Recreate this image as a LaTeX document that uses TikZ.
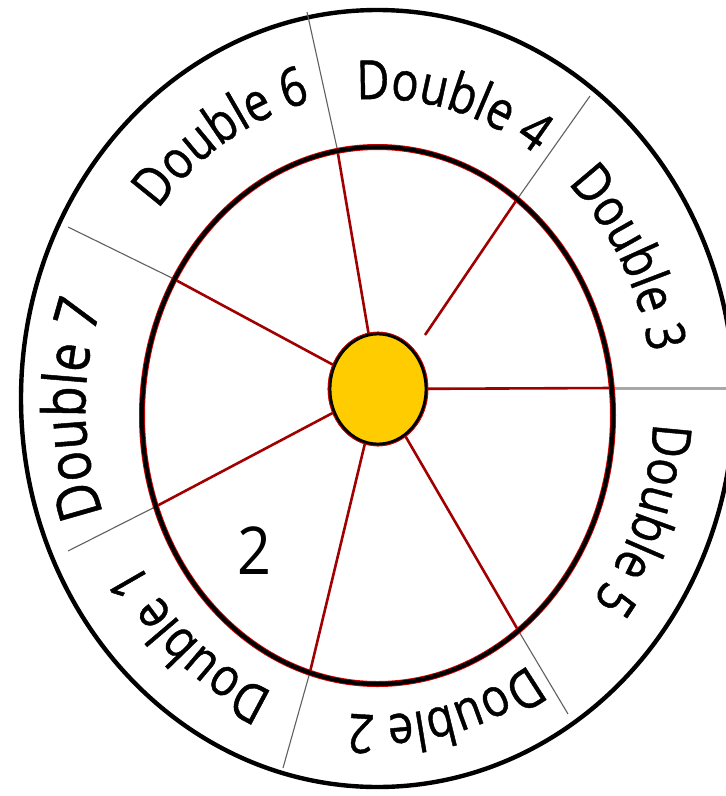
\documentclass[tikz,border=0pt]{standalone}
\usepackage{fontspec}
\newfontfamily\labfam[FakeStretch=0.84,FakeBold=0.8]{Open Sans}
\newfontfamily\numfam[FakeStretch=0.9]{Open Sans}
\newcommand\labfont{\labfam\fontsize{54}{60}\selectfont}
\newcommand\biglabfont{\labfam\fontsize{60}{66}\selectfont}
\usetikzlibrary{decorations.text,shapes.geometric}
\definecolor{spokered}{HTML}{A00000}
\definecolor{hubyellow}{HTML}{FFCC00}
\definecolor{divgray}{HTML}{606060}
\definecolor{lightdiv}{HTML}{A8A8A8}
\begin{document}
\begin{tikzpicture}[x=1pt,y=1pt,
  ringline/.style={draw=black,line width=4.4pt},
  innerline/.style={draw=black,line width=4.2pt,preaction={draw=red!85!black,line width=6pt}},
  spoke/.style={draw=spokered,line width=2.6pt},
  divider/.style={draw=divgray,line width=1.1pt},
  hdivider/.style={draw=lightdiv,line width=3pt},
  hubstyle/.style={ellipse,draw=black,line width=2.8pt,fill=hubyellow,inner sep=0pt,
    minimum width=96pt,minimum height=110pt,preaction={draw=red!80!black,line width=4.6pt}},
  lab/.style={decorate,decoration={text along path,text align=center,text={|\labfont|#1}}},
  biglab/.style={decorate,decoration={text along path,text align=center,text={|\biglabfont|#1}}},
  numlab/.style={font=\numfam\fontsize{66}{72}\selectfont,inner sep=0pt}
]
\useasboundingbox[fill=white] (0,0) rectangle (726,-796);

% coordinates of spoke ends (inner ellipse) and divider ends (outer ring)
\coordinate (a1) at (337,-148); \coordinate (a2) at (307,-12);
\coordinate (b0) at (425,-335); \coordinate (b1) at (518,-198); \coordinate (b2) at (590,-96);
\coordinate (c1) at (613,-388); \coordinate (c2) at (740,-388);
\coordinate (d1) at (518,-630); \coordinate (d2) at (568,-714);
\coordinate (e1) at (310,-672); \coordinate (e2) at (283,-768);
\coordinate (f1) at (153,-508); \coordinate (f2) at (68,-551);
\coordinate (g1) at (172,-278); \coordinate (g2) at (68,-227);

% outer ring
\draw[ringline] (377.5,-398.5) ellipse [x radius=356.5, y radius=388.5];

% hub node
\path (378,-389) node[hubstyle] (hub) {};

% spokes
\draw[spoke] (hub) -- (a1);
\draw[spoke] (b0) -- (b1);
\draw[spoke] (hub) -- (c1);
\draw[spoke] (hub) -- (d1);
\draw[spoke] (hub) -- (e1);
\draw[spoke] (hub) -- (f1);
\draw[spoke] (hub) -- (g1);

% dividers in the ring
\draw[divider] (a1) -- (a2);
\draw[divider] (b1) -- (b2);
\draw[hdivider] (c1) -- (c2);
\draw[divider] (d1) -- (d2);
\draw[divider] (e1) -- (e2);
\draw[divider] (f1) -- (f2);
\draw[divider] (g1) -- (g2);

% inner ellipse
\draw[innerline] (377.5,-415.5) ellipse [x radius=235.5, y radius=268.5];

% hub redrawn on top
\path (378,-389) node[hubstyle] (hubtop) {};

% labels along the ring (clockwise arcs)
\coordinate (tc) at (377.5,-407);
\path[lab={Double 6}] (tc) ++(171:282 and 314) arc[start angle=171, end angle=71, x radius=282, y radius=314];
\path[lab={Double 4}] (tc) ++(125.5:276 and 308) arc[start angle=125.5, end angle=25.5, x radius=276, y radius=308];
\path[lab={Double 3}] (tc) ++(79.6:276 and 308) arc[start angle=79.6, end angle=-20.4, x radius=276, y radius=308];
\path[lab={Double 5}] (tc) ++(28:276 and 308) arc[start angle=28, end angle=-72, x radius=276, y radius=308];
\path[lab={Double 2}] (tc) ++(-27:276 and 308) arc[start angle=-27, end angle=-127, x radius=276, y radius=308];
\path[lab={Double 1}] (tc) ++(-79.5:276 and 308) arc[start angle=-79.5, end angle=-179.5, x radius=276, y radius=308];
\path[biglab={Double 7}] (tc) ++(230.5:292 and 308) arc[start angle=230.5, end angle=130.5, x radius=292, y radius=308];

% number in a sector
\node[numlab] (two) at (254,-551) {2};
\end{tikzpicture}
\end{document}
